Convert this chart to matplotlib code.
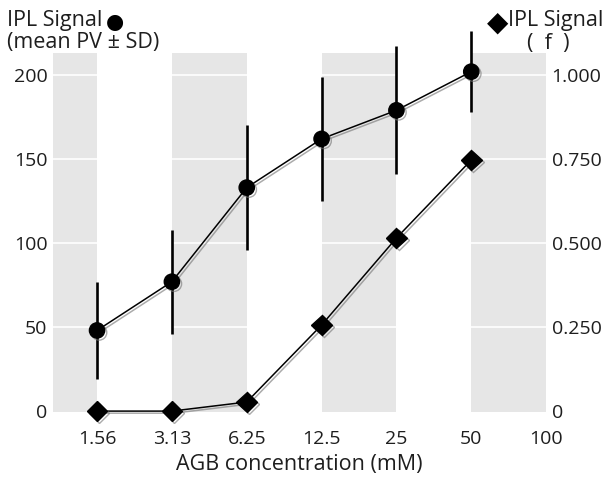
import matplotlib

matplotlib.use("Agg")
import matplotlib.pyplot as plt
import matplotlib.patheffects as pe

plt.rcParams["font.family"] = ["Open Sans", "DejaVu Sans"]

# data
conc_labels = ["1.56", "3.13", "6.25", "12.5", "25", "50", "100"]
pv_mean = [48, 77, 133, 162, 179, 202]
pv_sd = [29, 31, 37, 37, 38, 24]
signal_f = [0.0, 0.0, 0.027, 0.256, 0.515, 0.747]
left_ticks = [0, 50, 100, 150, 200]
right_ticks = [0, 0.25, 0.5, 0.75, 1.0]
right_labels = ["0", "0.250", "0.500", "0.750", "1.000"]

xpos = list(range(len(conc_labels)))
npts = len(pv_mean)
ink = "#1e1e1e"

fig = plt.figure(figsize=(6.15, 4.79), dpi=100)
ax = fig.add_axes([0.086, 0.140, 0.802, 0.749])

# alternating grey bands between ticks
for start in range(-1, len(conc_labels), 2):
    ax.axvspan(start, start + 1, color="#e6e6e6", lw=0, zorder=0)
for y in left_ticks[1:]:
    ax.axhline(y, color="white", lw=1.2, zorder=1)

shadow = [pe.SimpleLineShadow(offset=(1.5, -1.5), shadow_color="0.45", alpha=0.6), pe.Normal()]

eb = ax.errorbar(xpos[:npts], pv_mean, yerr=pv_sd, fmt="none", ecolor="black",
                 elinewidth=1.9, capsize=0, zorder=3)
for coll in eb[2]:
    coll.set_clip_on(False)
ax.plot(xpos[:npts], pv_mean, color="black", lw=1.1, marker="o", ms=11,
        zorder=4, path_effects=shadow, clip_on=False)

ax2 = ax.twinx()
ax2.plot(xpos[:npts], signal_f, color="black", lw=1.1, marker="D", ms=10.5,
         zorder=4, path_effects=shadow, clip_on=False)

ax.set_xlim(-0.59, 6.0)
ax.set_ylim(-0.5, 213)
ax2.set_ylim(-0.5 / 200, 213 / 200)

ax.set_xticks(xpos)
ax.set_xticklabels(conc_labels)
ax.set_yticks(left_ticks)
ax.set_yticklabels([str(v) for v in left_ticks])
ax2.set_yticks(right_ticks)
ax2.set_yticklabels(right_labels)

for a in (ax, ax2):
    for s in a.spines.values():
        s.set_visible(False)
    a.tick_params(length=0, labelsize=14, colors=ink)
ax.tick_params(axis="x", pad=13)
ax.tick_params(axis="y", pad=4)
ax2.tick_params(axis="y", pad=4)

ax.set_xlabel("AGB concentration (mM)", fontsize=15.5, labelpad=4, color=ink)

# axis headers, with the series symbol glyph next to each
left_head = fig.text(0.011, 0.957, "IPL Signal", fontsize=15.5, ha="left", va="center", color=ink)
fig.text(0.011, 0.911, "(mean PV \u00B1 SD)", fontsize=15.5, ha="left", va="center", color=ink)
right_head = fig.text(0.981, 0.957, "IPL Signal", fontsize=15.5, ha="right", va="center", color=ink)
fig.text(0.891, 0.909, "(  f  )", fontsize=15.5, ha="center", va="center", color=ink)

fig.canvas.draw()
ax.annotate("\u25CF", xy=(1, 0.5), xycoords=left_head, xytext=(3, -1),
            textcoords="offset points", fontsize=15, ha="left", va="center",
            color="black", family="DejaVu Sans", annotation_clip=False)
ax.annotate("\u25C6", xy=(0, 0.5), xycoords=right_head, xytext=(0, -1.5),
            textcoords="offset points", fontsize=20, ha="right", va="center",
            color="black", family="DejaVu Sans", annotation_clip=False)

fig.savefig("out.png", dpi=100)
